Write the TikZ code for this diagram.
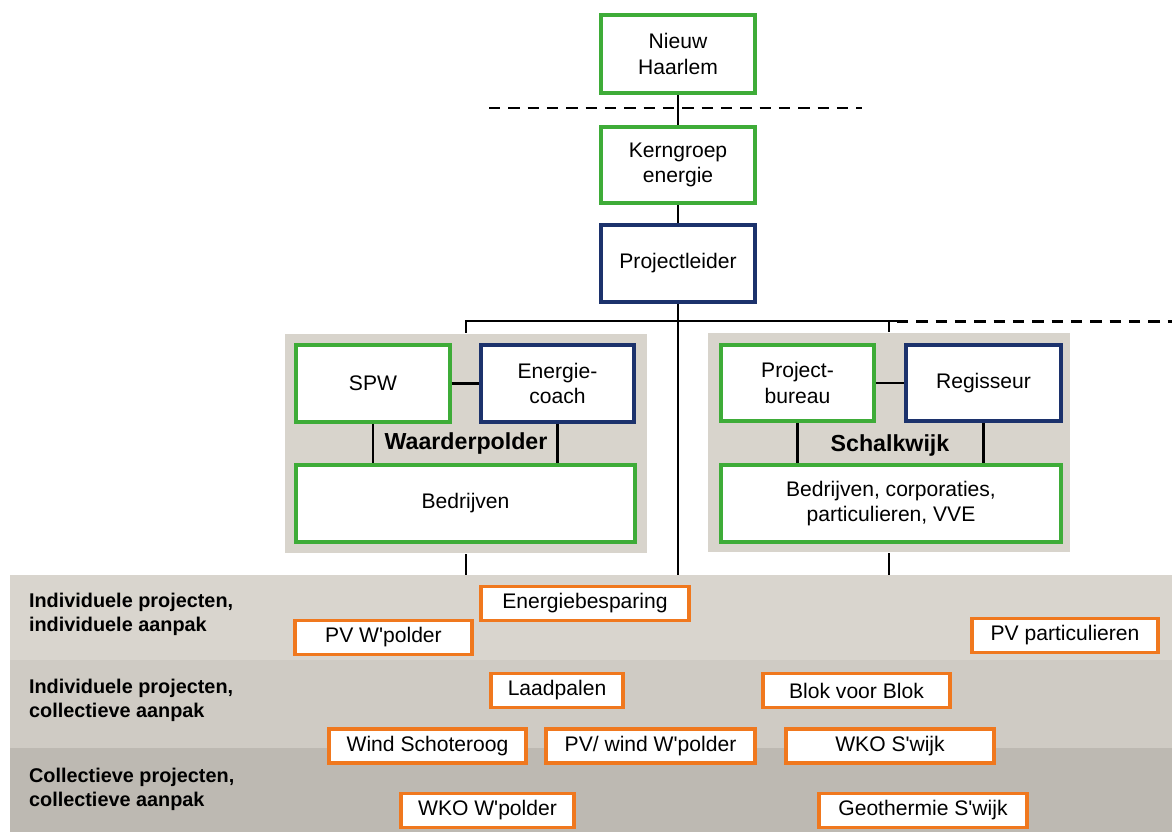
\documentclass[tikz,border=0pt]{standalone}
\usepackage{fontspec}
\setmainfont{Liberation Sans}

\definecolor{kgreen}{RGB}{62,172,56}
\definecolor{kblue}{RGB}{28,50,108}
\definecolor{korange}{RGB}{240,120,30}
\definecolor{kpanel}{RGB}{216,212,204}
\definecolor{bandA}{RGB}{217,213,206}
\definecolor{bandB}{RGB}{207,203,196}
\definecolor{bandC}{RGB}{189,185,178}

\newcommand{\ap}{\textquotesingle}

\tikzset{
  box/.style = {draw, line width = 2pt, fill = white, align = center, inner sep = 0pt, font = \fontsize{12}{14.5}\selectfont},
  groen/.style = {box, draw = kgreen},
  blauw/.style = {box, draw = kblue},
  oranje/.style = {box, draw = korange, line width = 2.2pt, minimum height = 0.68cm},
  panel/.style = {fill = kpanel, inner sep = 0pt},
  rij/.style = {anchor = west, align = left, font = \fontsize{11.3}{13.7}\selectfont\bfseries},
  wijk/.style = {font = \fontsize{13.2}{15}\selectfont\bfseries},
  stippel/.style = {line width = 1.7pt, dash pattern = on 6.5pt off 4.5pt}
}

\begin{document}
\begin{tikzpicture}[x = 0.02cm, y = -0.02cm, line width = 1.4pt]
        \useasboundingbox (0,0) rectangle (1172,832);
        
        \fill[bandA] (10,575) rectangle (1172,660);
        \fill[bandB] (10,660) rectangle (1172,748);
        \fill[bandC] (10,748) rectangle (1172,832);
        
        \node[panel, minimum width = 7.24cm, minimum height = 4.38cm] (wpanel) at (466,443.5) {};
        \node[panel, minimum width = 7.24cm, minimum height = 4.38cm] (spanel) at (889,442.5) {};
        
        \node[groen, minimum width = 3.08cm, minimum height = 1.56cm] (nh) at (678,54) {Nieuw\\Haarlem};
        \node[groen, minimum width = 3.08cm, minimum height = 1.52cm] (kern) at (678,165) {Kerngroep\\energie};
        \node[blauw, minimum width = 3.08cm, minimum height = 1.54cm] (pl) at (678,263.5) {Projectleider};
        
        \node[groen, minimum width = 3.08cm, minimum height = 1.54cm] (spw) at (373,383.5) {SPW};
        \node[blauw, minimum width = 3.06cm, minimum height = 1.54cm] (coach) at (557.5,383.5) {Energie-\\coach};
        \node[groen, minimum width = 6.78cm, minimum height = 1.54cm] (bedr) at (465.5,503.5) {Bedrijven};
        \node[wijk] (wlabel) at (466,443) {Waarderpolder};
        
        \node[groen, minimum width = 3.06cm, minimum height = 1.52cm] (sbur) at (797.5,383) {Project-\\bureau};
        \node[blauw, minimum width = 3.1cm, minimum height = 1.52cm] (reg) at (983.5,383) {Regisseur};
        \node[groen, minimum width = 6.8cm, minimum height = 1.54cm] (sbedr) at (891,503.5) {Bedrijven, corporaties,\\particulieren, VVE};
        \node[wijk] (slabel) at (890,445) {Schalkwijk};
        
        \coordinate (dashL) at (489,108);
        \coordinate (dashR) at (862,108);
        \coordinate (trunk) at (678,575);
        \coordinate (barend) at (897,321);
        \coordinate (dashend) at (1172,321);
        
        \draw[stippel] (dashL) -- (dashR);
        \draw (nh) -- (kern);
        \draw (kern) -- (pl);
        \draw (pl) -- (trunk);
        \draw (wpanel.north) |- (barend);
        \draw (spanel.north) -- (spanel.north |- barend);
        \draw[stippel] (barend) -- (dashend);
        
        \draw (spw) -- (coach);
        \draw (spw.south) -- (spw.south |- bedr.north);
        \draw (coach.south) -- (coach.south |- bedr.north);
        \draw (wpanel.south) -- (wpanel.south |- trunk);
        
        \draw (sbur) -- (reg);
        \draw (sbur.south) -- (sbur.south |- sbedr.north);
        \draw (reg.south) -- (reg.south |- sbedr.north);
        \draw (spanel.south) -- (spanel.south |- trunk);
        
        \node[rij] (rij1) at (22,614) {Individuele projecten,\\individuele aanpak};
        \node[rij] (rij2) at (22,700) {Individuele projecten,\\collectieve aanpak};
        \node[rij] (rij3) at (22,789) {Collectieve projecten,\\collectieve aanpak};
        
        \node[oranje, minimum width = 4.16cm] (besp) at (585,603.5) {Energiebesparing};
        \node[oranje, minimum width = 3.54cm] (pvw) at (383.5,637.5) {PV W\ap polder};
        \node[oranje, minimum width = 3.72cm] (pvp) at (1065,635.5) {PV particulieren};
        \node[oranje, minimum width = 2.64cm] (laad) at (557,690.5) {Laadpalen};
        \node[oranje, minimum width = 3.74cm] (blok) at (856.5,690.5) {Blok voor Blok};
        \node[oranje, minimum width = 3.94cm] (wind) at (427.5,746) {Wind Schoteroog};
        \node[oranje, minimum width = 4.18cm] (pvwind) at (650.5,746) {PV/ wind W\ap polder};
        \node[oranje, minimum width = 4.16cm] (wkos) at (890,746) {WKO S\ap wijk};
        \node[oranje, minimum width = 3.46cm] (wkow) at (487.5,810.5) {WKO W\ap polder};
        \node[oranje, minimum width = 4.16cm] (geo) at (923,810.5) {Geothermie S\ap wijk};
    \end{tikzpicture}
\end{document}
